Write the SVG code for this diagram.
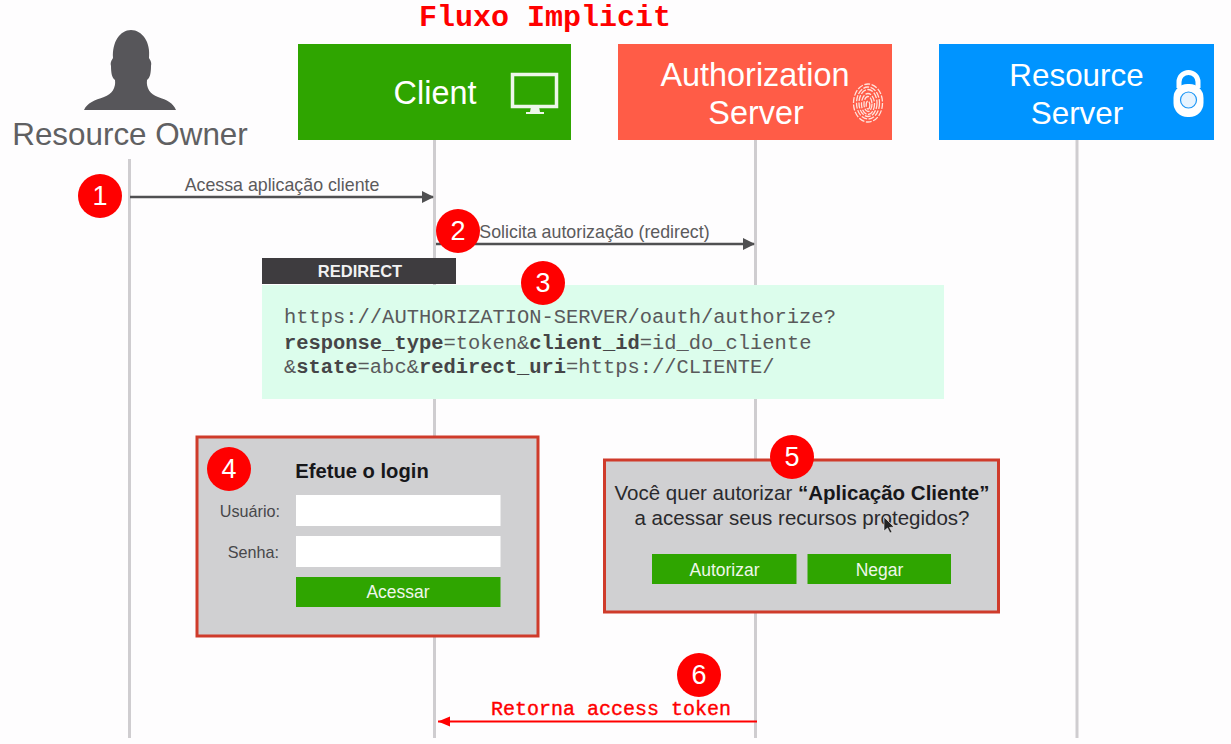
<svg xmlns="http://www.w3.org/2000/svg" width="1231" height="744" viewBox="0 0 1231 744">
<style>
.sans{font-family:"Liberation Sans",Arial,sans-serif}
.mono{font-family:"Liberation Mono","Courier New",monospace}
.life{stroke:#cfcdd0;stroke-width:3;fill:none}
.head{font-size:32.400px;fill:#fff;text-anchor:middle}
.msg{font-size:17.800px;fill:#5b5a5c;text-anchor:middle}
.code{font-size:20.45px;fill:#59595b}
.code .b{font-weight:700;fill:#454547}
.badge circle{fill:#f00}
.badge text{font-size:27px;fill:#fff;text-anchor:middle}
.panel{fill:#d0d0d2;stroke:#cf3b2b;stroke-width:3}
.btn{fill:#2fa500}
.btxt{font-size:17.500px;fill:#eef7ea;text-anchor:middle}
.lab{font-size:16.200px;fill:#47474a}
.q{font-size:20.500px;fill:#2a2a2d;text-anchor:middle}
</style>
<defs>
<marker id="ag" markerWidth="12" markerHeight="12" refX="11" refY="6" orient="auto" markerUnits="userSpaceOnUse"><path d="M0 0L12 6L0 12z" fill="#505052"/></marker>
<marker id="ar" markerWidth="13" markerHeight="12" refX="12" refY="6" orient="auto" markerUnits="userSpaceOnUse"><path d="M0 1L12 6L0 11z" fill="#f00"/></marker>
</defs>
<rect width="1231" height="744" fill="#fefdfe"/>
<g id="lifelines">
<line class="life" x1="129.500" y1="159" x2="129.500" y2="738"/>
<line class="life" x1="434.500" y1="140" x2="434.500" y2="738"/>
<line class="life" x1="755.500" y1="140" x2="755.500" y2="738"/>
<line class="life" x1="1077" y1="140" x2="1077" y2="738"/>
</g>
<g id="connectors">
<line x1="130" y1="197" x2="433" y2="197" stroke="#505052" stroke-width="2.500" marker-end="url(#ag)"/>
<line x1="436" y1="244" x2="754" y2="244" stroke="#505052" stroke-width="2.500" marker-end="url(#ag)"/>
<line x1="757" y1="721.500" x2="438" y2="721.500" stroke="#f00" stroke-width="2" marker-end="url(#ar)"/>
<text class="sans msg" x="282" y="191">Acessa aplicação cliente</text>
<text class="sans msg" x="594.500" y="238">Solicita autorização (redirect)</text>
<text class="mono" x="491" y="715" font-size="20" fill="#f00" stroke="#f00" stroke-width=".4">Retorna access token</text>
</g>
<text id="title" class="mono" x="419" y="26" font-size="30" font-weight="700" fill="#f00">Fluxo Implicit</text>
<g id="resource-owner">
<path d="M84 110C87 103 95 100 104 97C112 94 116 88 115 80C112 78 111 73 111 66C110 62 112 60 113 58C112 42 120 30 131 30C142 30 151 42 149 58C150 60 152 62 151 66C151 73 150 78 147 80C146 88 150 94 158 97C167 100 173 103 176 110z" fill="#57565a"/>
<text class="sans" x="130" y="145" font-size="31.400" fill="#606062" text-anchor="middle">Resource Owner</text>
</g>
<g id="client">
<rect x="298" y="44" width="273" height="96" fill="#2fa500"/>
<text class="sans head" x="435" y="104">Client</text>
<rect x="512.500" y="74.500" width="44" height="32" fill="none" stroke="#eef7ea" stroke-width="3.500"/>
<path d="M531 107h8l1 5h4v2h-18v-2h4z" fill="#eef7ea"/>
</g>
<g id="authorization-server">
<rect x="618" y="44" width="274" height="96" fill="#ff5c47"/>
<text class="sans head" x="755" y="85.500">Authorization</text>
<text class="sans head" x="756" y="123.500">Server</text>
<g fill="none" stroke="#ffe3dc" stroke-width="1.300" stroke-dasharray="6 1.500">
<ellipse cx="868" cy="103" rx="14.500" ry="19"/>
<ellipse cx="868" cy="103" rx="11.500" ry="16"/>
<ellipse cx="868" cy="103" rx="9" ry="13.500"/>
<ellipse cx="868" cy="104" rx="6.500" ry="10.500"/>
<ellipse cx="868" cy="104" rx="4" ry="7.500"/>
<ellipse cx="868" cy="105" rx="1.800" ry="4"/>
</g>
</g>
<g id="resource-server">
<rect x="939" y="44" width="275" height="96" fill="#0094ff"/>
<text class="sans head" x="1076.500" y="85.500" style="font-size:31.400px">Resource</text>
<text class="sans head" x="1077" y="123.500" style="font-size:31.400px">Server</text>
<path d="M1179 88V82a9.500 9.500 0 0 1 19 0V88" fill="none" stroke="#fff" stroke-width="5"/>
<rect x="1173.500" y="84" width="30" height="33" rx="14" fill="#fff"/>
<circle cx="1188.500" cy="100" r="8" fill="#e7f4ff" stroke="#1f97f5" stroke-width="1.200"/>
</g>
<g id="redirect">
<rect x="262" y="285" width="682" height="114" fill="#dcfdec"/>
<rect x="262" y="258" width="194" height="26" fill="#3e3c3f"/>
<text class="sans" x="360" y="277" font-size="16.500" font-weight="700" fill="#f2f2f2" text-anchor="middle">REDIRECT</text>
<text class="mono code" x="284" y="323">https://AUTHORIZATION-SERVER/oauth/authorize?</text>
<text class="mono code" x="284" y="349"><tspan class="b">response_type</tspan>=token&amp;<tspan class="b">client_id</tspan>=id_do_cliente</text>
<text class="mono code" x="284" y="373">&amp;<tspan class="b">state</tspan>=abc&amp;<tspan class="b">redirect_uri</tspan>=https://CLIENTE/</text>
</g>
<g id="login">
<rect class="panel" x="197" y="437" width="341" height="199"/>
<text class="sans" x="362" y="477.500" font-size="20.200" font-weight="700" fill="#17171a" text-anchor="middle">Efetue o login</text>
<text class="sans lab" x="280" y="517" text-anchor="end">Usuário:</text>
<text class="sans lab" x="279" y="558" text-anchor="end">Senha:</text>
<rect x="296" y="495" width="204.500" height="31" fill="#fff"/>
<rect x="296" y="536" width="204.500" height="31" fill="#fff"/>
<rect class="btn" x="296" y="577" width="204.500" height="30"/>
<text class="sans btxt" x="398" y="597.500">Acessar</text>
</g>
<g id="consent">
<rect class="panel" x="604.500" y="460" width="394" height="152"/>
<text class="sans q" x="802" y="499.500"><tspan>Você quer autorizar </tspan><tspan font-weight="700" fill="#17171a">“Aplicação Cliente”</tspan></text>
<text class="sans q" x="802" y="524.500">a acessar seus recursos protegidos?</text>
<path d="M884 517V531L887.500 528L890 533L892 532L889.500 527.500L894 527z" fill="#222" stroke="#eee" stroke-width=".6"/>
<rect class="btn" x="652" y="554" width="144.500" height="30"/>
<rect class="btn" x="807.500" y="554" width="143.500" height="30"/>
<text class="sans btxt" x="724.500" y="575.500">Autorizar</text>
<text class="sans btxt" x="879.500" y="575.500">Negar</text>
</g>
<g id="badge-1" class="badge"><circle cx="100" cy="196" r="22"/><text class="sans" x="100" y="205">1</text></g>
<g id="badge-2" class="badge"><circle cx="458" cy="231" r="22"/><text class="sans" x="458" y="240">2</text></g>
<g id="badge-3" class="badge"><circle cx="543" cy="283" r="22"/><text class="sans" x="543" y="292">3</text></g>
<g id="badge-4" class="badge"><circle cx="229" cy="469" r="22"/><text class="sans" x="229" y="478">4</text></g>
<g id="badge-5" class="badge"><circle cx="792" cy="457" r="22"/><text class="sans" x="792" y="466">5</text></g>
<g id="badge-6" class="badge"><circle cx="699" cy="675" r="22"/><text class="sans" x="699" y="684">6</text></g>
</svg>
